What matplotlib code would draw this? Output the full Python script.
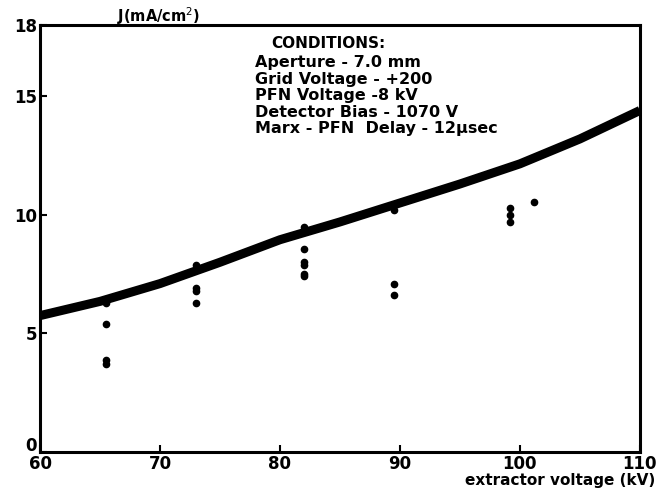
import matplotlib
matplotlib.use("Agg")
import matplotlib.pyplot as plt
import matplotlib.transforms as mtransforms

# Fitted curve
curve_x = [60, 65, 70, 75, 80, 85, 90, 95, 100, 105, 110]
curve_y = [5.75, 6.35, 7.1, 8.0, 8.95, 9.7, 10.5, 11.3, 12.15, 13.2, 14.4]

# Measured points
pts_x = [65.5, 65.5, 65.5, 65.5,
         73, 73, 73, 73,
         82, 82, 82, 82, 82, 82,
         89.5, 89.5, 89.5,
         99.2, 99.2, 99.2, 101.2]
pts_y = [6.3, 5.4, 3.9, 3.7,
         7.9, 6.9, 6.8, 6.3,
         9.5, 8.55, 8.0, 7.9, 7.5, 7.4,
         10.2, 7.1, 6.6,
         10.3, 10.0, 9.7, 10.55]

xticks = [60, 70, 80, 90, 100, 110]
xlabels = ["60", "70", "80", "90", "100", "110"]
yticks = [0, 5, 10, 15, 18]
ylabels = ["0", "5", "10", "15", "18"]

conditions = ["Aperture - 7.0 mm",
              "Grid Voltage - +200",
              "PFN Voltage -8 kV",
              "Detector Bias - 1070 V",
              "Marx - PFN  Delay - 12\u03bcsec"]

fig = plt.figure(figsize=(6.59, 4.92), dpi=100)
ax = fig.add_axes([0.0607, 0.0813, 0.9103, 0.8677])

ax.plot(curve_x, curve_y, color="black", lw=6.5, solid_capstyle="butt", zorder=3)
ax.plot(pts_x, pts_y, "o", color="black", ms=4.5, zorder=4)

ax.set_xlim(60, 110)
ax.set_ylim(0, 18)
ax.set_xticks(xticks)
ax.set_xticklabels(xlabels, fontsize=12, fontweight="heavy")
ax.set_yticks(yticks)
ax.set_yticklabels(ylabels, fontsize=12, fontweight="heavy")
ax.tick_params(direction="in", length=5, width=1.5, pad=2)
for s in ax.spines.values():
    s.set_linewidth(2.2)

# raise the "0" y label slightly so it does not collide with "60"
lbl0 = ax.get_yticklabels()[0]
lbl0.set_transform(lbl0.get_transform() +
                   mtransforms.ScaledTranslation(0, 6 / 72, fig.dpi_scale_trans))

fig.text(0.178, 0.945, "J(mA/cm$^2$)", fontsize=10.5, fontweight="heavy",
         ha="left", va="bottom")
fig.text(0.995, 0.008, "extractor voltage (kV)", fontsize=11, fontweight="heavy",
         ha="right", va="bottom")

ax.text(0.48, 0.975, "CONDITIONS:", transform=ax.transAxes, fontsize=11,
        fontweight="heavy", ha="center", va="top")
ax.text(0.358, 0.93, "\n".join(conditions), transform=ax.transAxes,
        fontsize=11.5, fontweight="heavy", ha="left", va="top", linespacing=1.13)

fig.savefig("out.png", dpi=100)
